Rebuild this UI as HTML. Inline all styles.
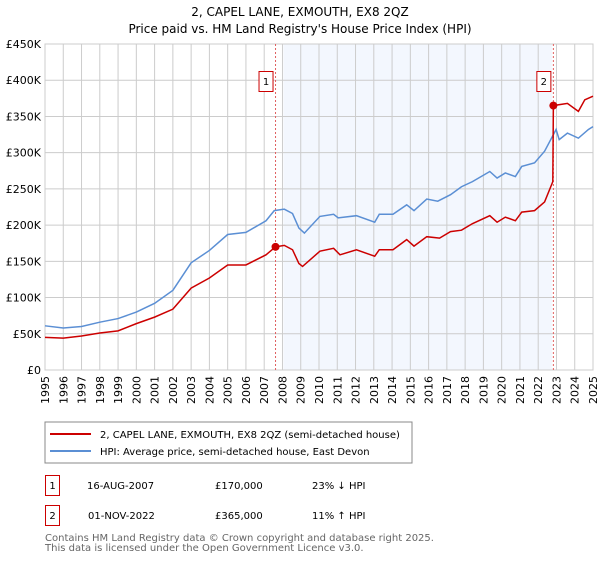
<!DOCTYPE html>
<html><head><meta charset="utf-8"><style>
body{margin:0;background:#fff;width:600px;height:560px;overflow:hidden;font-family:"Liberation Sans","DejaVu Sans",sans-serif}
svg text{font-family:"DejaVu Sans","Liberation Sans",sans-serif}
</style></head><body>
<svg id="c" width="600" height="560" viewBox="0 0 600 560">
<text x="300" y="16" font-size="12" text-anchor="middle" fill="#000">2, CAPEL LANE, EXMOUTH, EX8 2QZ</text>
<text x="300" y="33" font-size="12" text-anchor="middle" fill="#000">Price paid vs. HM Land Registry's House Price Index (HPI)</text>
<g id="grid"></g><g id="series"></g><g id="axes"></g>
<rect x="45" y="422" width="367" height="41" fill="#fff" stroke="#888"/>
<line x1="50" y1="434" x2="91" y2="434" stroke="#cc0000" stroke-width="2"/>
<text x="100" y="438" font-size="10">2, CAPEL LANE, EXMOUTH, EX8 2QZ (semi-detached house)</text>
<line x1="50" y1="451" x2="91" y2="451" stroke="#5b8fd4" stroke-width="2"/>
<text x="100" y="455" font-size="10">HPI: Average price, semi-detached house, East Devon</text>
<rect x="45.5" y="475.5" width="14" height="20" fill="#fff" stroke="#cc0000"/>
<text x="52.5" y="489" font-size="10" text-anchor="middle">1</text>
<text x="87" y="489" font-size="10">16-AUG-2007</text>
<text x="215" y="489" font-size="10">£170,000</text>
<text x="312" y="489" font-size="10">23% ↓ HPI</text>
<rect x="45.5" y="505.5" width="14" height="20" fill="#fff" stroke="#cc0000"/>
<text x="52.5" y="519" font-size="10" text-anchor="middle">2</text>
<text x="88" y="519" font-size="10">01-NOV-2022</text>
<text x="215" y="519" font-size="10">£365,000</text>
<text x="312" y="519" font-size="10">11% ↑ HPI</text>
<text x="45" y="541" font-size="10" fill="#666">Contains HM Land Registry data © Crown copyright and database right 2025.</text>
<text x="45" y="551" font-size="10" fill="#666">This data is licensed under the Open Government Licence v3.0.</text>
</svg>
<script>
const hpiYears=[1995,1996,1997,1998,1999,2000,2001,2002,2003,2004,2005,2006,2007.1,2007.55,2008.1,2008.55,2008.9,2009.2,2010.05,2010.8,2011.05,2012.05,2013.05,2013.3,2014.05,2014.8,2015.2,2015.9,2016.5,2017.2,2017.8,2018.4,2019.35,2019.75,2020.2,2020.75,2021.1,2021.8,2022.35,2022.98,2023.15,2023.6,2024.2,2024.75,2025];
const hpiValues=[61,58,60,66,71,80,92,110,148,165,187,190,206,220,222,216,196,189,212,215,210,213,204,215,215,228,220,236,233,242,253,260,274,265,272,267,281,286,302,332,318,327,320,332,336];
const ppYears=[1995,1996,1997,1998,1999,2000,2001,2002,2003,2004,2005,2006,2007.1,2007.62,2008.1,2008.55,2008.9,2009.1,2010.05,2010.8,2011.15,2012.05,2013.05,2013.3,2014.05,2014.8,2015.2,2015.9,2016.6,2017.2,2017.8,2018.4,2019.35,2019.75,2020.2,2020.75,2021.1,2021.8,2022.35,2022.8,2022.83,2023.6,2024.2,2024.55,2025];
const ppValues=[45,44,47,51,54,64,73,84,113,127,145,145,159,170,172,166,147,143,164,168,159,166,157,166,166,180,171,184,182,191,193,202,213,204,211,206,218,220,232,260,365,368,357,373,378];
const saleYears=[2007.62,2022.83];
const saleValues=[170,365];
const saleLabels=["1","2"];
const yTicks=[0,50,100,150,200,250,300,350,400,450];
const yTickLabels=["£0","£50K","£100K","£150K","£200K","£250K","£300K","£350K","£400K","£450K"];
const xTicks=[1995,1996,1997,1998,1999,2000,2001,2002,2003,2004,2005,2006,2007,2008,2009,2010,2011,2012,2013,2014,2015,2016,2017,2018,2019,2020,2021,2022,2023,2024,2025];
const X0=45,X1=593,Y0=370,Y1=44;
const xs=y=>X0+(y-1995)/30*(X1-X0);
const ys=v=>Y0-v/450*(Y0-Y1);
const NS="http://www.w3.org/2000/svg";
function mk(parent,tag,attrs){const e=document.createElementNS(NS,tag);for(const k in attrs)e.setAttribute(k,attrs[k]);document.getElementById(parent).appendChild(e);return e;}
const sh=mk('grid','rect',{x:xs(2008.05),y:Y1,width:xs(2022.75)-xs(2008.05),height:Y0-Y1,fill:'#eef3fd',opacity:0.7});


xTicks.forEach((t,i)=>{
 const l=mk('grid','line',{x1:xs(t),x2:xs(t),y1:Y1,y2:Y0,stroke:'#cccccc'});
 
 
 const tx=mk('axes','text',{x:0,y:0,'font-size':11,'text-anchor':'end',transform:`translate(${xs(t)+4},${Y0+6}) rotate(-90)`});
 tx.textContent=t;
 
 
});
yTicks.forEach((t,i)=>{
 const l=mk('grid','line',{x1:X0,x2:X1,y1:ys(t),y2:ys(t),stroke:'#cccccc'});
 
 
 const tx=mk('axes','text',{x:X0-4,y:ys(t)+4,'font-size':11,'text-anchor':'end'});
 tx.textContent=yTickLabels[i];
 
 
});
const fr=mk('grid','rect',{x:X0,y:Y1,width:X1-X0,height:Y0-Y1,fill:'none',stroke:'#cccccc'});


saleYears.forEach((y,i)=>{
 const l=mk('series','line',{x1:xs(y),x2:xs(y),y1:Y1,y2:Y0,stroke:'#e06060','stroke-dasharray':'2,2'});
 
 
});
const hp=mk('series','polyline',{points:hpiYears.map((y,i)=>xs(y)+','+ys(hpiValues[i])).join(' '),fill:'none',stroke:'#5b8fd4','stroke-width':1.5});


const pp=mk('series','polyline',{points:ppYears.map((y,i)=>xs(y)+','+ys(ppValues[i])).join(' '),fill:'none',stroke:'#cc0000','stroke-width':1.5});


saleYears.forEach((y,i)=>{
 const c=mk('series','circle',{cx:xs(y),cy:ys(saleValues[i]),r:4,fill:'#cc0000'});
 
 
 const r=mk('series','rect',{x:xs(y)-16.5,y:71.5,width:14,height:20,fill:'#fff',stroke:'#cc0000'});
 
 
 const t=mk('series','text',{x:xs(y)-9.5,y:85,'font-size':10,'text-anchor':'middle'});
 t.textContent=saleLabels[i];
 
 
});
</script>
</body></html>
